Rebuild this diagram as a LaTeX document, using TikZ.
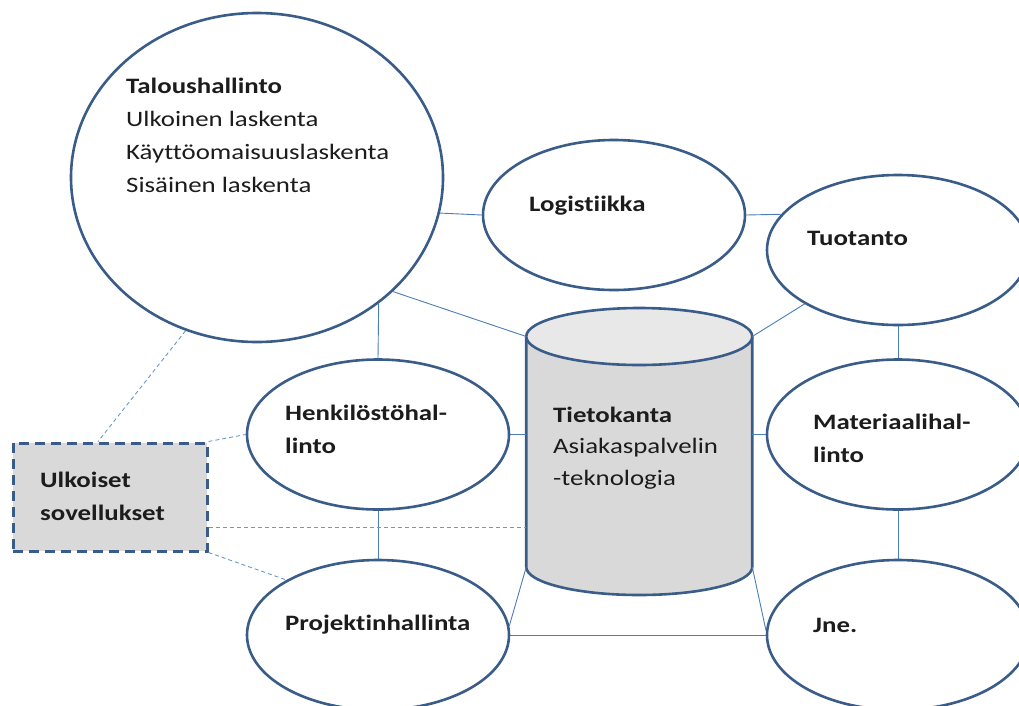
\documentclass[tikz,border=0pt]{standalone}
\usepackage{fontspec}
\setmainfont{Carlito}[FakeStretch=1.22, Ligatures=NoCommon]
\usetikzlibrary{shapes.geometric}

\definecolor{edgeblue}{HTML}{3A5C88}
\definecolor{linkblue}{HTML}{4A7EBB}
\definecolor{boxgray}{HTML}{D9D9D9}
\definecolor{topgray}{HTML}{E8E8E8}
\definecolor{txt}{HTML}{1C1C1C}

\tikzset{
  bubble/.style={ellipse, draw=edgeblue, line width=2.6pt, fill=white,
    inner sep=0pt, minimum width=262pt, minimum height=150pt},
  link/.style={draw=linkblue, line width=0.9pt},
  dlink/.style={draw=linkblue!80, line width=0.9pt, dash pattern=on 4pt off 3pt},
  lbl/.style={anchor=base west, align=left, inner sep=0pt, text=txt,
    font=\fontsize{22}{32.5}\selectfont},
  outline/.style={draw=edgeblue, line width=2.6pt},
}

\begin{document}
\begin{tikzpicture}[x=1pt, y=-1pt]
  \useasboundingbox (0,0) rectangle (1019,705);
  \clip (0,0) rectangle (1019,705);

  % module bubbles
  \node[bubble, minimum width=372pt, minimum height=329pt] (talous) at (257,177.5) {};
  \node[bubble] (logi) at (614,215) {};
  \node[bubble] (tuot) at (898,250) {};
  \node[bubble] (henk) at (378,434.5) {};
  \node[bubble] (mat)  at (898,434.5) {};
  \node[bubble] (proj) at (378,635) {};
  \node[bubble] (jne)  at (898,635) {};

  % database cylinder: invisible frame node for the connectors
  \node[inner sep=0pt, outer sep=0pt, minimum width=226pt, minimum height=230.5pt] (cyl) at (639.25,451.75) {};
  \fill[boxgray] (cyl.north west) rectangle (cyl.south east);
  \fill[boxgray] (cyl.south) ellipse [x radius=113pt, y radius=28pt];
  \draw[outline, line join=round] (cyl.north west) -- (cyl.south west)
     arc[start angle=180, end angle=360, x radius=113pt, y radius=28pt] -- (cyl.north east);
  \draw[outline, fill=topgray] (cyl.north) ellipse [x radius=113pt, y radius=28.5pt];

  % external applications box
  \node[draw=edgeblue, line width=3pt, dash pattern=on 10pt off 6pt, fill=boxgray,
        inner sep=0pt, minimum width=194pt, minimum height=108pt] (ext) at (110,497) {};
  \coordinate (extlow) at ([yshift=-30pt]ext.east);

  % solid connectors
  \draw[link] (talous.-11) -- (logi.west);
  \draw[link] (logi.east) -- (tuot.163);
  \draw[link] (talous.-40) -- (cyl.north west);
  \draw[link] (talous.-46.3) -- (henk.north);
  \draw[link] (tuot.210.6) -- (cyl.north east);
  \draw[link] (tuot.south) -- (mat.north);
  \draw[link] (henk.east) -- (henk.east -| cyl.west);
  \draw[link] (mat.west) -- (mat.west -| cyl.east);
  \draw[link] (henk.south) -- (proj.north);
  \draw[link] (mat.south) -- (jne.north);
  \draw[link] (proj.4) -- (cyl.south west);
  \draw[link] (cyl.south east) -- (jne.178);
  \draw[link] (proj.east) -- (jne.west);

  % dashed connectors to the external box
  \draw[dlink] (talous.-115.8) -- ([xshift=-12pt]ext.north);
  \draw[dlink] (ext.north east) -- (henk.west);
  \draw[dlink] (extlow) -- (extlow -| cyl.west);
  \draw[dlink] (ext.south east) -- (proj.149.4);

  % labels (multi-line labels are placed by the baseline of their last line)
  \node[lbl, font=\fontsize{22}{33}\selectfont] (ttalous) at (126,192) {\textbf{Taloushallinto}\\Ulkoinen laskenta\\Käyttöomaisuuslaskenta\\Sisäinen laskenta};
  \node[lbl] (tlogi) at (529,211) {\textbf{Logistiikka}};
  \node[lbl] (ttuot) at (807,245) {\textbf{Tuotanto}};
  \node[lbl] (thenk) at (285,453) {\textbf{Henkilöstöhal-}\\\textbf{linto}};
  \node[lbl] (tmat) at (813,462) {\textbf{Materiaalihal-}\\\textbf{linto}};
  \node[lbl] (tproj) at (285,630) {\textbf{Projektinhallinta}};
  \node[lbl] (tjne) at (813,632) {\textbf{Jne.}};
  \node[lbl, font=\fontsize{22}{31.5}\selectfont] (tcyl) at (553,485) {\textbf{Tietokanta}\\Asiakaspalvelin\\-teknologia};
  \node[lbl] (text) at (40,520) {\textbf{Ulkoiset}\\\textbf{sovellukset}};
\end{tikzpicture}
\end{document}
